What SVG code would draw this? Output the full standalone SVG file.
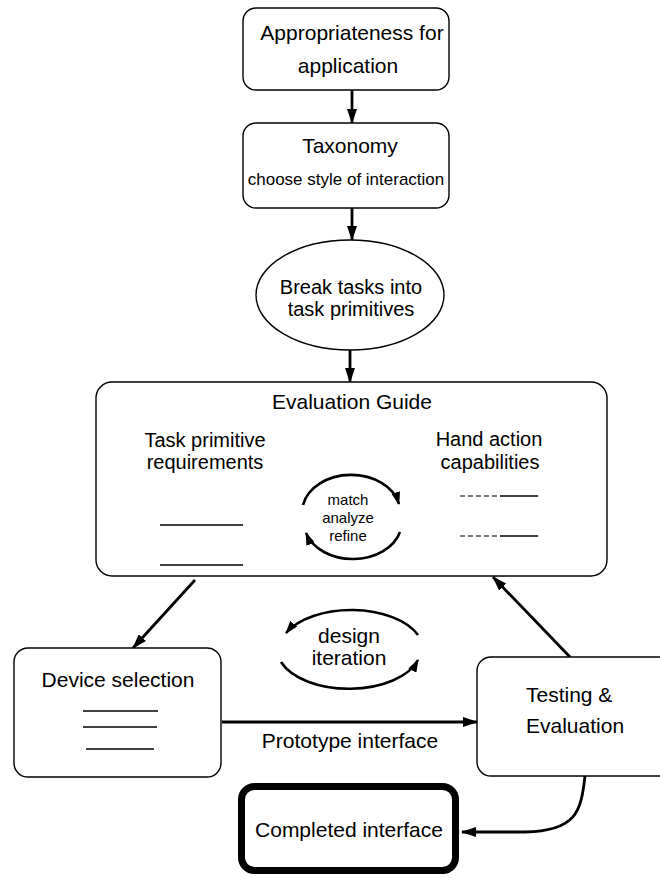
<svg xmlns="http://www.w3.org/2000/svg" width="660" height="878" viewBox="0 0 660 878">
<style>
  .box { fill: #ffffff; stroke: #000000; stroke-width: 1.4; }
  .thick { fill: #ffffff; stroke: #000000; stroke-width: 7; }
  .t { font-family: "Liberation Sans", Arial, Helvetica, sans-serif; font-size: 21px; fill: #000000; text-anchor: middle; }
  .m { font-size: 20px; }
  .s { font-size: 17px; }
  .xs { font-size: 15px; }
  .ln { stroke: #000000; stroke-width: 1.3; fill: none; }
  .dl { stroke: #000000; stroke-width: 1.1; stroke-dasharray: 5 3; fill: none; }
  .arr { stroke: #000000; stroke-width: 2.8; fill: none; marker-end: url(#ah); }
  .cyc { stroke: #000000; stroke-width: 2.6; fill: none; marker-end: url(#ahs); }
</style>
<defs>
  <marker id="ah" viewBox="0 0 15 10" refX="14" refY="5" markerWidth="15" markerHeight="10" orient="auto" markerUnits="userSpaceOnUse">
    <path d="M0,0 L15,5 L0,10 z" fill="#000000"/>
  </marker>
  <marker id="ahs" viewBox="0 0 13 9" refX="12" refY="4.5" markerWidth="13" markerHeight="9" orient="auto" markerUnits="userSpaceOnUse">
    <path d="M0,0 L13,4.5 L0,9 z" fill="#000000"/>
  </marker>
</defs>
<rect width="660" height="878" fill="#ffffff"/>

<g id="connectors">
  <line class="arr" x1="352" y1="90" x2="352" y2="123"/>
  <line class="arr" x1="352" y1="208" x2="352" y2="240"/>
  <line class="arr" x1="350" y1="350" x2="350" y2="382"/>
  <line class="arr" x1="195" y1="580" x2="133" y2="648"/>
  <line class="arr" x1="570" y1="657" x2="493" y2="577"/>
  <line class="arr" x1="222" y1="722" x2="477" y2="722"/>
  <path class="arr" d="M585,776 C581,812 576,831 525,832 L462,832"/>
  <text class="t" x="350" y="748">Prototype interface</text>
</g>

<g id="node-appropriateness">
  <rect class="box" x="243" y="8" width="206" height="82" rx="13"/>
  <text class="t" x="352" y="40">Appropriateness for</text>
  <text class="t" x="348" y="73">application</text>
</g>

<g id="node-taxonomy">
  <rect class="box" x="243" y="123" width="206" height="85" rx="13"/>
  <text class="t" x="350" y="153">Taxonomy</text>
  <text class="t s" x="346" y="185">choose style of interaction</text>
</g>

<g id="node-break-tasks">
  <ellipse class="box" cx="350" cy="295" rx="94" ry="55"/>
  <text class="t m" x="351" y="294">Break tasks into</text>
  <text class="t m" x="351" y="316">task primitives</text>
</g>

<g id="node-evaluation-guide">
  <rect class="box" x="96" y="382" width="511" height="194" rx="16"/>
  <text class="t" x="352" y="409">Evaluation Guide</text>
  <text class="t m" x="205" y="447">Task primitive</text>
  <text class="t m" x="205" y="469">requirements</text>
  <text class="t m" x="489" y="446">Hand action</text>
  <text class="t m" x="490" y="469">capabilities</text>
  <line class="ln" x1="160" y1="525" x2="243" y2="525"/>
  <line class="ln" x1="160" y1="565" x2="243" y2="565"/>
  <line class="dl" x1="460" y1="496" x2="500" y2="496"/>
  <line class="ln" x1="500" y1="496" x2="538" y2="496"/>
  <line class="dl" x1="460" y1="536" x2="500" y2="536"/>
  <line class="ln" x1="500" y1="536" x2="538" y2="536"/>
  <path class="cyc" d="M303,505 A49,37 0 0 1 399,504"/>
  <path class="cyc" d="M400,532 A49,37 0 0 1 306,533"/>
  <text class="t xs" x="348" y="505">match</text>
  <text class="t xs" x="348" y="523">analyze</text>
  <text class="t xs" x="348" y="541">refine</text>
</g>

<g id="design-iteration">
  <path class="cyc" d="M418,635 A72,40 0 0 0 286,633"/>
  <path class="cyc" d="M281,662 A72,40 0 0 0 418,660"/>
  <text class="t" x="349" y="643">design</text>
  <text class="t" x="349" y="665">iteration</text>
</g>

<g id="node-device-selection">
  <rect class="box" x="14" y="648" width="207" height="129" rx="14"/>
  <text class="t" x="118" y="687">Device selection</text>
  <line class="ln" x1="83" y1="711" x2="158" y2="711"/>
  <line class="ln" x1="83" y1="727" x2="157" y2="727"/>
  <line class="ln" x1="86" y1="749" x2="154" y2="749"/>
</g>

<g id="node-testing">
  <rect class="box" x="477" y="657" width="200" height="119" rx="14"/>
  <text class="t" x="526" y="702" style="text-anchor:start">Testing &amp;</text>
  <text class="t" x="526" y="733" style="text-anchor:start">Evaluation</text>
</g>

<g id="node-completed">
  <rect class="thick" x="241.5" y="786.5" width="214" height="84" rx="13"/>
  <text class="t" x="349" y="837">Completed interface</text>
</g>
</svg>
